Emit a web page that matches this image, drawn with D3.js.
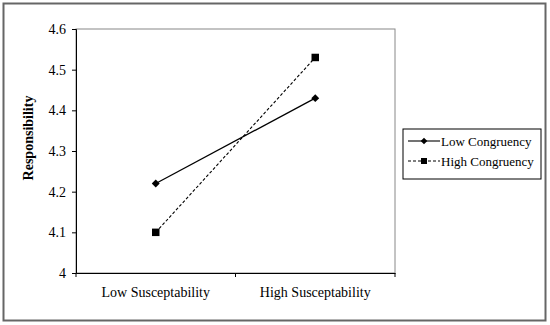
<!DOCTYPE html>
<html><head><meta charset="utf-8">
<script src="https://cdn.jsdelivr.net/npm/d3@7"></script>
<style>body{margin:0;background:#fff}svg{display:block}</style>
</head><body>
<script>
const categories = ["Low Susceptability", "High Susceptability"];
const seriesNames = ["Low Congruency", "High Congruency"];
const lowCongruency = [4.22, 4.43];
const highCongruency = [4.10, 4.53];
const yTicks = [4, 4.1, 4.2, 4.3, 4.4, 4.5, 4.6];
const yTickLabels = ["4", "4.1", "4.2", "4.3", "4.4", "4.5", "4.6"];

const W = 550, H = 325;
const svg = d3.select("body").append("svg").attr("width", W).attr("height", H);
const font = "'Liberation Serif', 'Times New Roman', serif";

svg.append("rect").attr("x", 3.5).attr("y", 3.5).attr("width", 542).attr("height", 317)
  .attr("fill", "#fff").attr("stroke", "#666").attr("stroke-width", 2);

const L = 76, R = 395, T = 29, B = 273;
const x = d3.scaleBand().domain(categories).range([L, R]);
const y = d3.scaleLinear().domain([4, 4.6]).range([B, T]);

// plot area frame
svg.append("rect").attr("x", L).attr("y", T).attr("width", R - L).attr("height", B - T)
  .attr("fill", "none").attr("stroke", "#888").attr("stroke-width", 1);

const yAxis = svg.append("g").attr("transform", `translate(${L},0)`)
  .call(d3.axisLeft(y).tickValues(yTicks).tickFormat((d, i) => yTickLabels[i]).tickSize(4).tickPadding(6));
const xAxis = svg.append("g").attr("transform", `translate(0,${B})`)
  .call(d3.axisBottom(x).tickSize(0).tickPadding(14));
// category boundary ticks
svg.append("g").selectAll("line").data([L, L + x.bandwidth(), R]).join("line")
  .attr("x1", d => d).attr("x2", d => d).attr("y1", B).attr("y2", B + 4)
  .attr("stroke", "#000");

[yAxis, xAxis].forEach(g => {
  g.select(".domain").attr("stroke", "#000");
  g.selectAll(".tick line").attr("stroke", "#000");
  g.selectAll("text").attr("font-family", font).attr("font-size", 14).attr("fill", "#000");
});

svg.append("text").attr("transform", `translate(33,138) rotate(-90)`)
  .attr("text-anchor", "middle").attr("font-family", font).attr("font-size", 14)
  .attr("font-weight", "bold").text("Responsibility");

const cx = d => x(d) + x.bandwidth() / 2;
const line = d3.line().x((d, i) => cx(categories[i])).y(d => y(d));

svg.append("path").datum(lowCongruency).attr("d", line)
  .attr("fill", "none").attr("stroke", "#000").attr("stroke-width", 1.3);
svg.append("path").datum(highCongruency).attr("d", line)
  .attr("fill", "none").attr("stroke", "#000").attr("stroke-width", 1.1).attr("stroke-dasharray", "3,2");

const diamond = d3.symbol().type(d3.symbolDiamond2).size(40);
const square = d3.symbol().type(d3.symbolSquare).size(56);
svg.append("g").selectAll("path").data(lowCongruency).join("path")
  .attr("d", diamond).attr("transform", (d, i) => `translate(${cx(categories[i])},${y(d)})`).attr("fill", "#000");
svg.append("g").selectAll("path").data(highCongruency).join("path")
  .attr("d", square).attr("transform", (d, i) => `translate(${cx(categories[i])},${y(d)})`).attr("fill", "#000");

// legend
const lg = svg.append("g");
lg.append("rect").attr("x", 403).attr("y", 129).attr("width", 138).attr("height", 50)
  .attr("fill", "#fff").attr("stroke", "#000").attr("stroke-width", 1);
const items = [
  {name: seriesNames[0], dash: null, sym: diamond, y: 141},
  {name: seriesNames[1], dash: "3,2", sym: square, y: 161}
];
items.forEach(it => {
  lg.append("line").attr("x1", 408).attr("x2", 440).attr("y1", it.y).attr("y2", it.y)
    .attr("stroke", "#000").attr("stroke-width", 1.1).attr("stroke-dasharray", it.dash);
  lg.append("path").attr("d", it.sym.size(it.sym === square ? 36 : 28)).attr("transform", `translate(424,${it.y})`).attr("fill", "#000");
  lg.append("text").attr("x", 441).attr("y", it.y + 4.5).attr("font-family", font).attr("font-size", 13)
    .text(it.name);
});
</script>
</body></html>
